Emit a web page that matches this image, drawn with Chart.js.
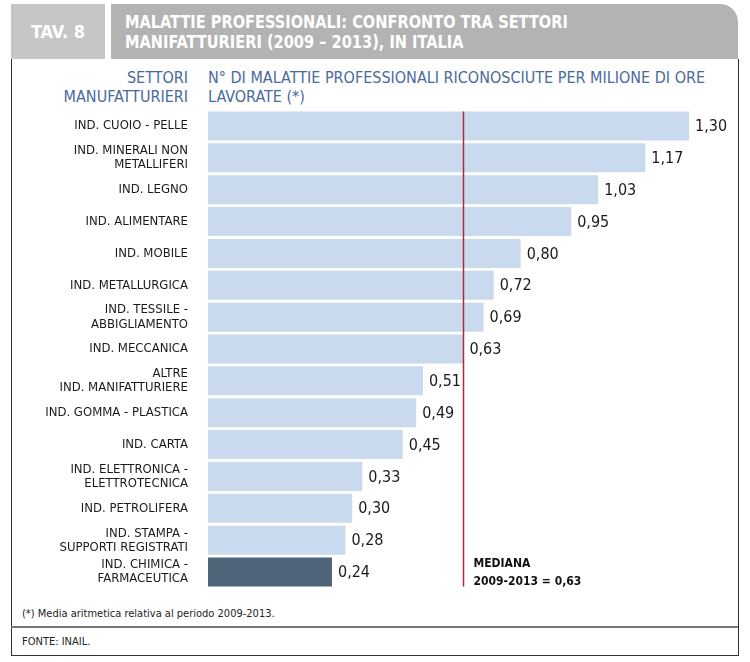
<!DOCTYPE html>
<html>
<head>
<meta charset="utf-8">
<script src="https://cdn.jsdelivr.net/npm/chart.js@4.4.1/dist/chart.umd.min.js"></script>
<style>
    body { margin: 0; background: #fff; font-family: "DejaVu Sans Condensed", "DejaVu Sans", sans-serif; font-stretch: condensed; }
    #page { position: relative; width: 750px; height: 662px; overflow: hidden; }
    .abs { position: absolute; }
    #tab { left: 11px; top: 4px; width: 94px; height: 55px; background: #c6c6c6; color: #fff; font-weight: bold; font-size: 18px; line-height: 55px; text-align: center; }
    #head { left: 111px; top: 4px; width: 627px; height: 55px; background: #b3b3b3; border-top-right-radius: 18px; }
    #title { left: 125px; top: 12px; color: #fff; font-weight: bold; font-size: 18px; line-height: 20px; white-space: nowrap; transform: scaleX(0.9); transform-origin: left top; }
    #box { left: 11px; top: 59px; width: 726px; height: 596px; border: 1px solid #333; border-top: none; }
    #sep { left: 11px; top: 626px; width: 727px; height: 0; border-top: 2px solid #777; }
    .axtitle { color: #4a6a9c; font-size: 16px; line-height: 19px; }
    #settori { right: 562px; top: 68px; text-align: right; }
    #misura { left: 208px; top: 68px; }
    .note { left: 22px; font-size: 11px; color: #222; }
    #chart { position: absolute; left: 0; top: 0; }
</style>
</head>
<body>
<div id="page">
    <div id="box" class="abs"></div>
    <div id="sep" class="abs"></div>
    <div id="tab" class="abs">TAV. 8</div>
    <div id="head" class="abs"></div>
    <div id="title" class="abs">MALATTIE PROFESSIONALI: CONFRONTO TRA SETTORI<br>MANIFATTURIERI (2009 – 2013), IN ITALIA</div>
    <div id="settori" class="abs axtitle">SETTORI<br>MANUFATTURIERI</div>
    <div id="misura" class="abs axtitle">N° DI MALATTIE PROFESSIONALI RICONOSCIUTE PER MILIONE DI ORE<br>LAVORATE (*)</div>
    <div class="abs note" style="top:607px">(*) Media aritmetica relativa al periodo 2009-2013.</div>
    <div class="abs note" style="top:635px">FONTE: INAIL.</div>
    <canvas id="chart" width="750" height="662"></canvas>
</div>

<script>
// settori manifatturieri, dall'alto in basso
const sectors = [
    "IND. CUOIO - PELLE",
    ["IND. MINERALI NON", "METALLIFERI"],
    "IND. LEGNO",
    "IND. ALIMENTARE",
    "IND. MOBILE",
    "IND. METALLURGICA",
    ["IND. TESSILE -", "ABBIGLIAMENTO"],
    "IND. MECCANICA",
    ["ALTRE", "IND. MANIFATTURIERE"],
    "IND. GOMMA - PLASTICA",
    "IND. CARTA",
    ["IND. ELETTRONICA -", "ELETTROTECNICA"],
    "IND. PETROLIFERA",
    ["IND. STAMPA -", "SUPPORTI REGISTRATI"],
    ["IND. CHIMICA -", "FARMACEUTICA"]
];
const diseasesPerMillionHours = [1.30, 1.17, 1.03, 0.95, 0.80, 0.72, 0.69, 0.63, 0.51, 0.49, 0.45, 0.33, 0.30, 0.28, 0.24];
const median = 0.63;
const medianLabel = ["MEDIANA", "2009-2013 = 0,63"];

const FONT = '"DejaVu Sans Condensed", "DejaVu Sans", sans-serif';
const barColors = sectors.map((s, i) => i == sectors.length - 1 ? "#4e6479" : "#c9daef");

// the printed bars do not start at zero, so the axis starts a bit below it
const axisMin = -0.128;
const axisMax = 1.451;

const extras = {
    id: "extras",
    afterDatasetsDraw(chart) {
        const ctx = chart.ctx;
        const x = chart.scales.x;
        const bars = chart.getDatasetMeta(0).data;
        const first = bars[0];
        const last = bars[bars.length - 1];

        // median line
        const mx = Math.round(x.getPixelForValue(median)) + 0.5;
        ctx.save();
        ctx.strokeStyle = "#b02a35";
        ctx.lineWidth = 1.5;
        ctx.beginPath();
        ctx.moveTo(mx, first.y - first.height / 2);
        ctx.lineTo(mx, last.y + last.height / 2);
        ctx.stroke();

        // values next to the bars
        ctx.fillStyle = "#1a1a1a";
        ctx.font = "16px " + FONT;
        ctx.textBaseline = "middle";
        ctx.textAlign = "left";
        bars.forEach((bar, i) => {
            ctx.fillText(diseasesPerMillionHours[i].toFixed(2).replace(".", ","), bar.x + 6, bar.y + 1);
        });

        // median label
        ctx.font = "bold 12px " + FONT;
        ctx.fillStyle = "#111";
        ctx.fillText(medianLabel[0], mx + 10, last.y - 8);
        ctx.fillText(medianLabel[1], mx + 10, last.y + 10);
        ctx.restore();
    }
};

new Chart(document.getElementById("chart"), {
    type: "bar",
    data: {
        labels: sectors,
        datasets: [{
            data: diseasesPerMillionHours,
            base: axisMin,
            backgroundColor: barColors,
            borderWidth: 0,
            barPercentage: 0.91,
            categoryPercentage: 1
        }]
    },
    options: {
        indexAxis: "y",
        responsive: false,
        animation: false,
        layout: { padding: { top: 110, bottom: 74, left: 0, right: 10 } },
        plugins: { legend: { display: false }, tooltip: { enabled: false } },
        scales: {
            x: { display: false, min: axisMin, max: axisMax },
            y: {
                afterFit(axis) { axis.width = 208; },
                grid: { display: false, drawTicks: false },
                border: { display: false },
                ticks: {
                    padding: 20,
                    color: "#1a1a1a",
                    font: { family: FONT, size: 13, lineHeight: 1.08 }
                }
            }
        }
    },
    plugins: [extras]
});
</script>
</body>
</html>
